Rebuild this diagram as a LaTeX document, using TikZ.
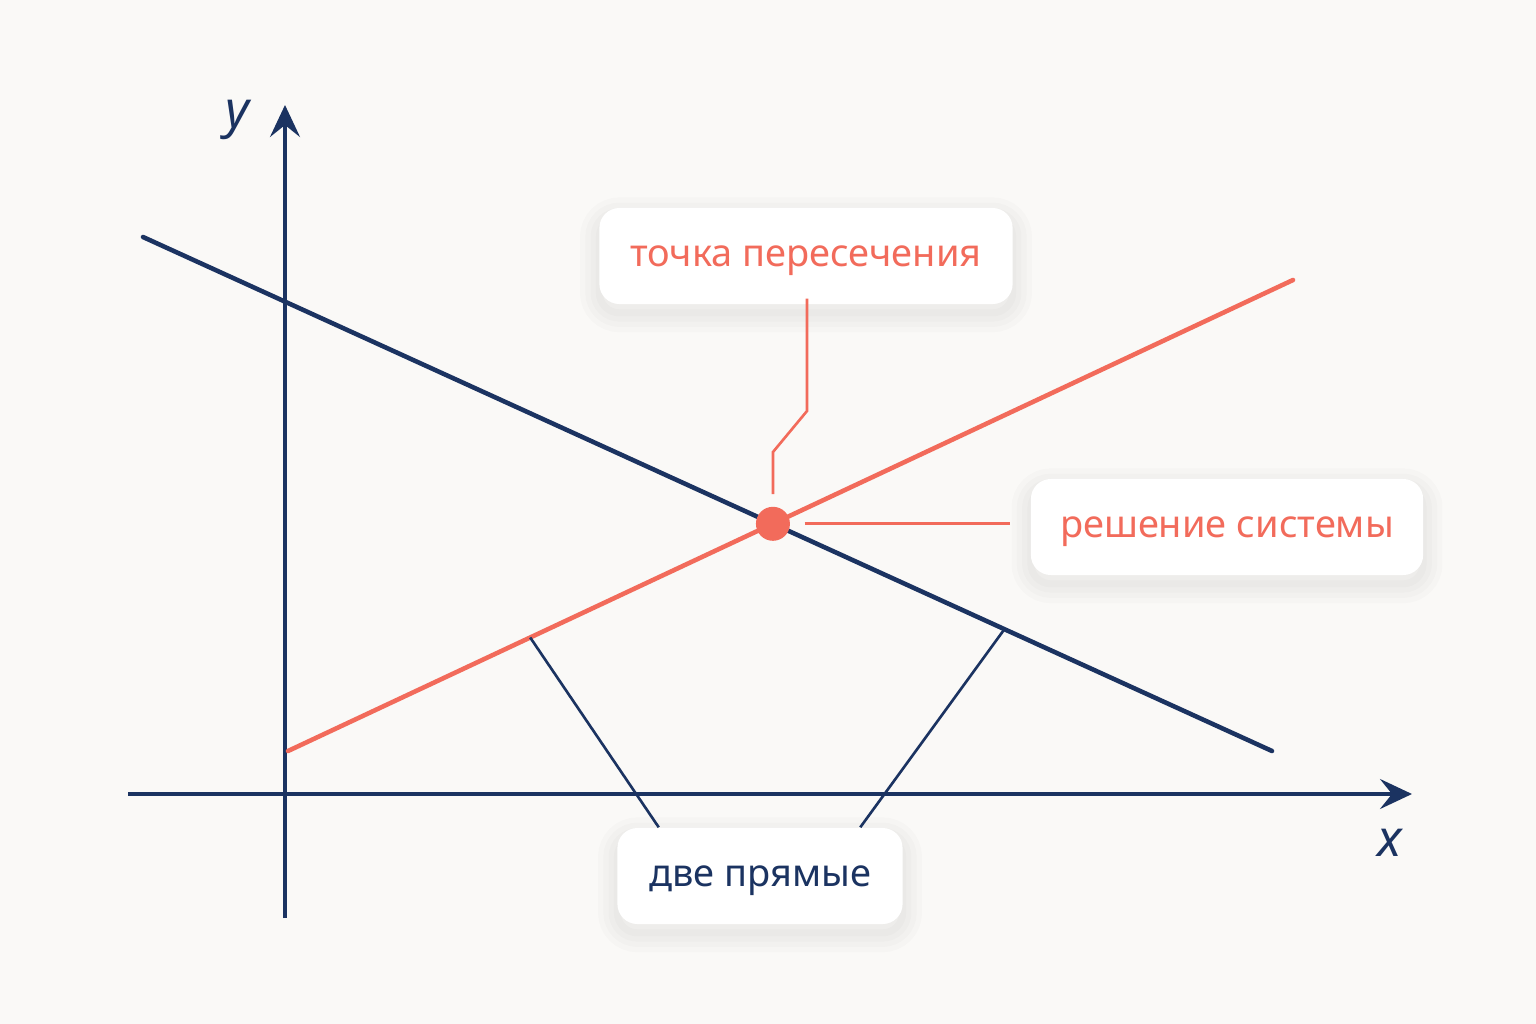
\documentclass[tikz,border=0pt]{standalone}
\usepackage{fontspec}
\setmainfont{Noto Sans}
\usetikzlibrary{calc}
\usetikzlibrary{positioning}
\usetikzlibrary{arrows.meta}
\definecolor{navy}{HTML}{1B3361}
\definecolor{coral}{HTML}{F26B5B}
\definecolor{paper}{HTML}{FAF9F7}

\begin{document}
\begin{tikzpicture}
  [
  x=0.01cm, y=-0.01cm,
  % 座標軸
  axis/.style={navy, line width=1pt,
  -{Stealth[length=0.32cm, width=0.3cm, inset=0.12cm]}},
  % 直線
  straight/.style={line width=1.3pt, line cap=round},
  % 引き出し線
  leader/.style={line width=0.75pt},
  % 影
  haze/.style={preaction={draw=black, line width=#1, opacity=0.014,
  transform canvas={yshift=-2.5pt}}},
  % ラベルの箱
  tag/.style={rectangle, rounded corners=0.2cm, fill=white,
  minimum height=0.96cm, inner sep=0, text height=1.1ex, text depth=0pt,
  haze=11pt, haze=8pt, haze=5pt, haze=2pt,
  font=\fontsize{10.8}{13}\selectfont},
  % 軸の名前
  axlabel/.style={navy, font=\fontsize{14.5}{17}\selectfont\itshape},
  % 交点
  dot/.style={circle, fill=coral, minimum size=0.34cm, inner sep=0}
  ]
  \fill[paper] (0,0) rectangle (1536,1024);
  % 軸
  \coordinate (xl) at (128,794);
  \coordinate (xr) at (1412,794);
  \coordinate (yb) at (285,918);
  \coordinate (yt) at (285,105);
  \draw[axis] (xl) -- (xr);
  \draw[axis] (yb) -- (yt);
  \node[axlabel] (ylab) at (237,120) {y};
  \node[axlabel] (xlab) at (1390,843) {x};
  % 二本の直線
  \coordinate (a1) at (143,237);
  \coordinate (a2) at (1272,751);
  \coordinate (b1) at (288,751);
  \coordinate (b2) at (1293,280);
  \draw[straight, navy] (a1) -- coordinate[pos=0.763] (an) (a2);
  \draw[straight, coral] (b1) -- coordinate[pos=0.241] (bn) (b2);
  \node[dot] (cross) at (intersection of a1--a2 and b1--b2) {};
  % ラベル
  \node[tag, minimum width=4.13cm, text=coral] (meet) at (806,256)
  {точка пересечения};
  \node[tag, minimum width=3.92cm, text=coral] (sol) at (1227,527)
  {решение системы};
  \node[tag, minimum width=2.85cm, text=navy] (two) at (760,876)
  {две прямые};
  % 引き出し線
  \coordinate (bend) at ($(cross.north)+(34,-95)$);
  \draw[leader, coral] ($(cross.north)+(0,-12)$) -- ++(0,-42) -- (bend)
  -- ($(bend |- meet.south)+(0,-6)$);
  \draw[leader, coral] ($(cross.east)+(14,0)$)
  -- ($(sol.west |- cross.east)+(-20,0)$);
  \draw[leader, navy] (bn) -- ($(two.north west)+(42,0)$);
  \draw[leader, navy] (an) -- ($(two.north east)+(-43,0)$);
\end{tikzpicture}
\end{document}
